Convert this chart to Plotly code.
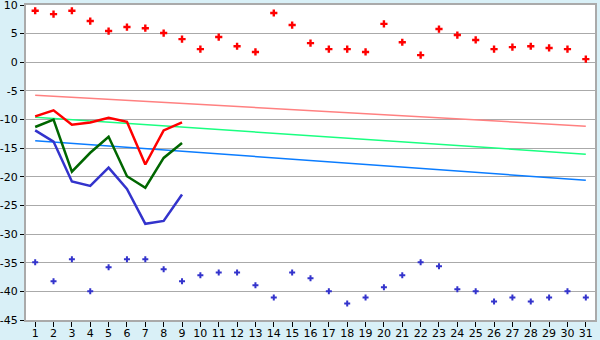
import plotly.graph_objects as go

days = list(range(1, 32))
max_pts = [9.0, 8.4, 9.0, 7.2, 5.45, 6.15, 5.95, 5.1, 4.05, 2.3, 4.4, 2.8, 1.8, 8.6, 6.5,
           3.35, 2.3, 2.3, 1.8, 6.7, 3.5, 1.25, 5.8, 4.75, 3.9, 2.3, 2.65, 2.8, 2.5, 2.3, 0.55]
min_pts = [-34.9, -38.25, -34.4, -40.0, -35.8, -34.4, -34.4, -36.15, -38.25, -37.2, -36.7,
           -36.7, -38.95, -41.05, -36.7, -37.7, -40.0, -42.1, -41.05, -39.3, -37.2, -34.9,
           -35.6, -39.65, -40.0, -41.75, -41.05, -41.75, -41.05, -40.0, -41.05]
line_days = list(range(1, 10))
red_line = [-9.45, -8.4, -10.9, -10.5, -9.7, -10.4, -17.85, -11.9, -10.5]
green_line = [-11.3, -10.0, -19.1, -15.8, -13.0, -19.9, -21.9, -16.7, -14.1]
blue_line = [-11.9, -13.85, -20.8, -21.6, -18.4, -22.1, -28.2, -27.7, -23.1]
trend_days = [1, 31]
trend_pink = [-5.75, -11.15]
trend_green = [-9.6, -16.05]
trend_blue = [-13.7, -20.6]
y_ticks = [10, 5, 0, -5, -10, -15, -20, -25, -30, -35, -40, -45]
y_labels = ["10", "5", "0", "-5", "-10", "-15", "-20", "-25", "-30", "-35", "-40", "-45"]

fig = go.Figure()
fig.add_trace(go.Scatter(x=trend_days, y=trend_pink, mode="lines",
                         line=dict(color="#FF8080", width=1.5)))
fig.add_trace(go.Scatter(x=trend_days, y=trend_green, mode="lines",
                         line=dict(color="#19FF80", width=1.5)))
fig.add_trace(go.Scatter(x=trend_days, y=trend_blue, mode="lines",
                         line=dict(color="#0A7CFF", width=1.5)))
fig.add_trace(go.Scatter(x=line_days, y=blue_line, mode="lines",
                         line=dict(color="#3333CC", width=2.5)))
fig.add_trace(go.Scatter(x=line_days, y=green_line, mode="lines",
                         line=dict(color="#006600", width=2.5)))
fig.add_trace(go.Scatter(x=line_days, y=red_line, mode="lines",
                         line=dict(color="#FF0000", width=2.5)))
fig.add_trace(go.Scatter(x=days, y=max_pts, mode="markers",
                         marker=dict(symbol="cross", size=6, color="#FF0000", line=dict(width=0))))
fig.add_trace(go.Scatter(x=days, y=min_pts, mode="markers",
                         marker=dict(symbol="cross", size=5, color="#3333CC", line=dict(width=0))))

fig.update_layout(
    width=600, height=340,
    margin=dict(l=26, r=5, t=5, b=20),
    paper_bgcolor="#D9F0F7",
    plot_bgcolor="#FFFFFF",
    showlegend=False,
    font=dict(family="DejaVu Sans", size=11, color="#000000"),
)
fig.update_xaxes(range=[0.5, 31.5], tickvals=days, ticktext=[str(d) for d in days],
                 showgrid=False, zeroline=False, showline=True, linecolor="#AAAAAA",
                 linewidth=2, mirror=True, ticks="outside", ticklen=5, tickcolor="#000000",
                 tickwidth=1, automargin=False, ticklabeloverflow="allow",
                 ticklabelstandoff=-3)
fig.update_yaxes(range=[-45, 10], tickvals=y_ticks, ticktext=y_labels,
                 showgrid=True, gridcolor="#AAAAAA", gridwidth=1, zeroline=False,
                 showline=True, linecolor="#AAAAAA", linewidth=2, mirror=True,
                 ticks="outside", ticklen=4, tickcolor="#000000", tickwidth=1,
                 automargin=False, ticklabeloverflow="allow")

fig.write_html("out.html")
